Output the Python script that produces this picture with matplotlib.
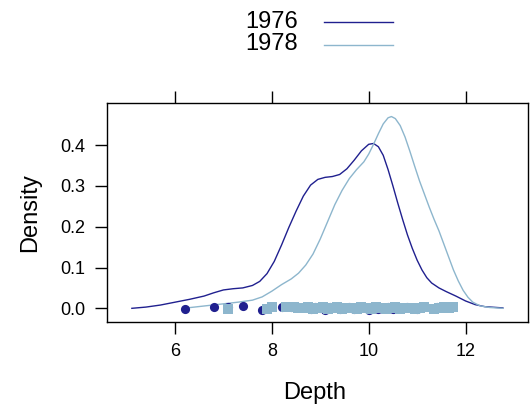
import matplotlib
matplotlib.use("Agg")
import matplotlib.pyplot as plt
from matplotlib.lines import Line2D

plt.rcParams['font.family'] = ['Liberation Sans', 'DejaVu Sans']

years = ['1976', '1978']
colors = ['#20208f', '#8db6cd']

# density curves
x_1976 = [5.11, 5.40, 5.70, 6.00, 6.30, 6.60, 6.80, 7.00, 7.20, 7.40, 7.60, 7.75,
          7.90, 8.05, 8.20, 8.35, 8.50, 8.65, 8.80, 8.95, 9.10, 9.25, 9.40, 9.55,
          9.70, 9.85, 10.00, 10.10, 10.20, 10.30, 10.40, 10.50, 10.60, 10.70,
          10.80, 10.90, 11.00, 11.10, 11.20, 11.30, 11.45, 11.60, 11.80, 12.00,
          12.20, 12.40, 12.77]
y_1976 = [0.000, 0.003, 0.008, 0.015, 0.022, 0.030, 0.038, 0.045, 0.048, 0.050,
          0.056, 0.066, 0.085, 0.115, 0.155, 0.198, 0.238, 0.275, 0.302, 0.316,
          0.321, 0.323, 0.328, 0.342, 0.363, 0.386, 0.402, 0.404, 0.396, 0.375,
          0.340, 0.300, 0.258, 0.218, 0.180, 0.147, 0.118, 0.094, 0.075, 0.062,
          0.050, 0.041, 0.030, 0.018, 0.009, 0.004, 0.001]

x_1978 = [6.17, 6.40, 6.70, 7.00, 7.30, 7.60, 7.80, 8.00, 8.20, 8.40, 8.55, 8.70,
          8.85, 9.00, 9.15, 9.30, 9.45, 9.60, 9.75, 9.90, 10.00, 10.10, 10.20,
          10.30, 10.40, 10.47, 10.55, 10.65, 10.75, 10.85, 10.95, 11.05, 11.15,
          11.25, 11.35, 11.45, 11.55, 11.65, 11.75, 11.85, 11.95, 12.05, 12.15,
          12.30, 12.50, 12.77]
y_1978 = [0.000, 0.003, 0.007, 0.011, 0.015, 0.020, 0.028, 0.042, 0.058, 0.072,
          0.086, 0.106, 0.133, 0.170, 0.212, 0.254, 0.289, 0.318, 0.340, 0.359,
          0.378, 0.402, 0.428, 0.452, 0.467, 0.470, 0.465, 0.448, 0.420, 0.385,
          0.348, 0.312, 0.280, 0.248, 0.218, 0.190, 0.158, 0.126, 0.094, 0.067,
          0.044, 0.027, 0.015, 0.006, 0.002, 0.000]

# raw depths shown as jittered points along the bottom
pts_1976 = [6.2, 6.8, 7.1, 7.4, 7.8, 8.2, 8.4, 8.55, 8.7, 8.8, 8.9, 9.0, 9.1,
            9.2, 9.3, 9.4, 9.5, 9.6, 9.7, 9.8, 9.9, 10.0, 10.05, 10.1, 10.2,
            10.3, 10.4, 10.5, 10.6, 10.8, 11.0, 11.4]
jit_1976 = [-0.002, 0.004, 0.004, 0.005, -0.004, 0.002, 0.004, 0.004, 0.003,
            -0.002, 0.003, 0.001, -0.003, 0.002, 0.003, -0.002, 0.001, 0.003,
            -0.002, 0.002, 0.003, -0.003, 0.002, 0.003, -0.002, 0.001, 0.002,
            -0.002, 0.002, 0.003, -0.001, 0.002]
pts_1978 = [7.1, 7.9, 8.0, 8.3, 8.45, 8.55, 8.65, 8.75, 8.85, 8.95, 9.05, 9.15,
            9.25, 9.35, 9.45, 9.55, 9.65, 9.75, 9.85, 9.95, 10.05, 10.15,
            10.25, 10.35, 10.45, 10.55, 10.65, 10.75, 10.85, 10.95, 11.05,
            11.15, 11.35, 11.45, 11.55, 11.65, 11.75]
jit_1978 = [-0.002, -0.001, 0.002, 0.002, 0.002, 0.000, 0.001, 0.002, -0.001,
            0.001, 0.002, -0.001, 0.001, 0.002, -0.001, 0.001, 0.000, -0.001,
            0.002, 0.001, -0.001, 0.002, 0.001, -0.001, 0.001, 0.002, -0.001,
            0.001, 0.001, -0.001, 0.001, 0.002, -0.001, 0.001, 0.002, 0.001,
            0.002]

xticks = [6, 8, 10, 12]
yticks = [0.0, 0.1, 0.2, 0.3, 0.4]

fig = plt.figure(figsize=(5.30, 4.07), dpi=100)
ax = fig.add_axes([0.2013, 0.2096, 0.795, 0.5366])

ax.plot(x_1976, y_1976, color=colors[0], lw=1.0, solid_joinstyle='round')
ax.plot(x_1978, y_1978, color=colors[1], lw=1.0, solid_joinstyle='round')
ax.plot(pts_1976, jit_1976, 'o', color=colors[0], ms=6.6, mew=0)
ax.plot(pts_1978, jit_1978, 's', color=colors[1], ms=6.6, mew=0)

ax.set_xlim(4.59, 13.29)
ax.set_ylim(-0.0328, 0.5025)
ax.set_xticks(xticks)
ax.set_yticks(yticks)
ax.set_yticklabels(['%.1f' % v for v in yticks])
ax.tick_params(axis='both', direction='out', length=8.3, width=1.0,
               labelsize=13, pad=7)
ax.tick_params(axis='x', top=True, labeltop=False)
for s in ax.spines.values():
    s.set_linewidth(1.0)

fig.text(0.5945, 1 - 393 / 407, 'Depth', ha='center', va='center', fontsize=17)
fig.text(30 / 530, 1 - 212.5 / 407, 'Density', ha='center', va='center',
         rotation=90, fontsize=17)

# key at the top
for i, (yr, c) in enumerate(zip(years, colors)):
    yy = 1 - (21.5 + 23 * i) / 407
    fig.text(298 / 530, yy, yr, ha='right', va='center', fontsize=17)
    fig.add_artist(Line2D([324 / 530, 393 / 530], [yy, yy], color=c, lw=1.0,
                          transform=fig.transFigure))

fig.savefig('out.png', dpi=100)
